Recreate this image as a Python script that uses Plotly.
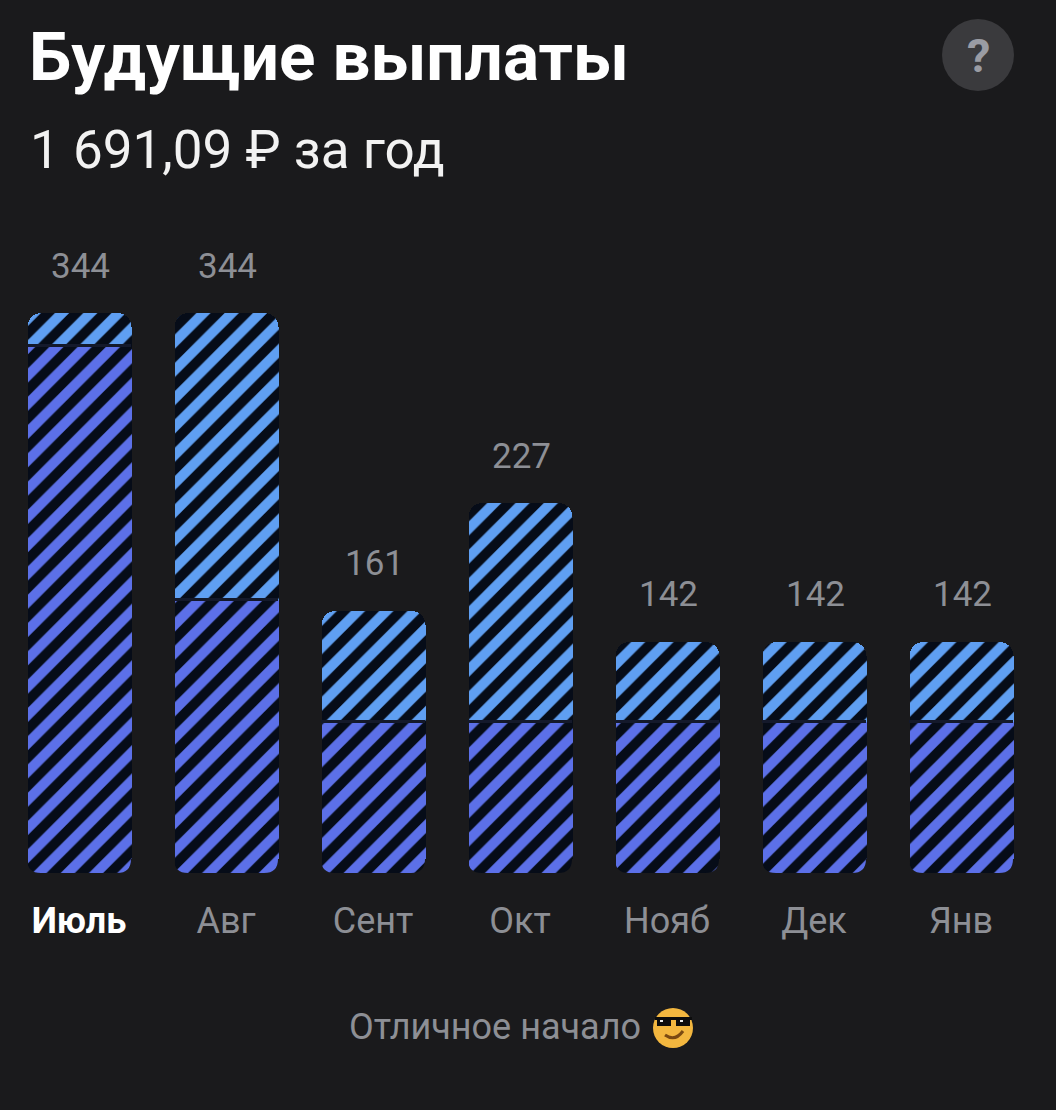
import plotly.graph_objects as go

# Data
months = ["Июль", "Авг", "Сент", "Окт", "Нояб", "Дек", "Янв"]
lower = [324, 168, 93, 93, 93, 93, 93]
upper = [20, 176, 68, 134, 49, 49, 49]
totals = [344, 344, 161, 227, 142, 142, 142]

W, H = 1056, 1110
BG = "#1a1a1c"
STRIPE = "#060c18"
BLUE_L = "#5f9ff2"
BLUE_D = "#5c70e8"
GREY = "#8d8f95"
FONT = "Roboto, Inter, sans-serif"
BAR_W = 104 / 147
RADIUS = 14
RX = RADIUS / 147
RY = RADIUS * 344 / 560
EPS = 1.5 / 147


def px(x):
    return x / W


def py(y):
    return 1 - y / H


def pattern(color):
    return dict(color=STRIPE, cornerradius=RADIUS, line_width=0,
                pattern=dict(shape="/", size=20, solidity=0.5, fgcolor=color,
                             bgcolor=STRIPE, fgopacity=1, fillmode="replace"))


xs = list(range(len(months)))
fig = go.Figure()
fig.add_bar(x=xs, y=lower, width=BAR_W, marker=pattern(BLUE_D))
fig.add_bar(x=xs, y=upper, width=BAR_W, marker=pattern(BLUE_L))

shapes = [dict(type="line", xref="x", yref="y", x0=i - BAR_W / 2, x1=i + BAR_W / 2, y0=v, y1=v,
               line=dict(color="#14192b", width=3)) for i, v in zip(xs, lower)]

# Background-coloured corner masks round the outer bottom of every stack
for i in xs:
    l, r = i - BAR_W / 2, i + BAR_W / 2
    for x0, dx, e in ((l, RX, -EPS), (r, -RX, EPS)):
        shapes.append(dict(type="path", xref="x", yref="y", fillcolor=BG, line_width=0,
                           path=f"M {x0 + e} {-1} L {x0 + dx} {-1} L {x0 + dx} 0 "
                                f"Q {x0} 0 {x0} {RY} L {x0 + e} {RY} Z"))


def circle(cx, cy, r, color):
    return dict(type="circle", xref="paper", yref="paper", x0=px(cx - r), x1=px(cx + r),
                y0=py(cy + r), y1=py(cy - r), fillcolor=color, line_width=0, layer="above")


def rect(x0, y0, x1, y1, color):
    return dict(type="rect", xref="paper", yref="paper", x0=px(x0), x1=px(x1),
                y0=py(y1), y1=py(y0), fillcolor=color, line_width=0, layer="above")


shapes.append(circle(978, 55, 36, "#3a3a3d"))
# sunglasses face icon
shapes.append(circle(673, 1028, 20, "#f3b73f"))
shapes.append(rect(655, 1017, 692, 1020, "#0c0c0c"))
shapes.append(rect(657, 1019, 671, 1026, "#0c0c0c"))
shapes.append(rect(676, 1019, 690, 1026, "#0c0c0c"))
shapes.append(rect(660, 1020, 663, 1022, "#e8e8e8"))
shapes.append(rect(680, 1020, 683, 1022, "#e8e8e8"))
shapes.append(dict(type="path", xref="paper", yref="paper", layer="above",
                   path=f"M {px(665)} {py(1035)} Q {px(675)} {py(1042)} {px(683)} {py(1031)}",
                   line=dict(color="#7a4a12", width=3)))

ann = [dict(x=i, y=t, xref="x", yref="y", text=str(t), showarrow=False, yshift=47, xshift=1,
            yanchor="middle", font=dict(size=35, color=GREY, family=FONT))
       for i, t in zip(xs, totals)]


def txt(x, y, s, size, color, weight=400, anchor="left"):
    return dict(x=px(x), y=py(y), xref="paper", yref="paper", text=s, showarrow=False,
                xanchor=anchor, yanchor="middle",
                font=dict(size=size, color=color, family=FONT, weight=weight))


ann += [
    txt(27, 56, "Будущие выплаты", 67.5, "#ffffff", 700),
    txt(28, 150, "1 691,09 ₽ за год", 53, "#f2f2f2"),
    txt(978, 55, "?", 47, "#9a9ca4", 700, "center"),
    txt(643, 1027, "Отличное начало", 36, GREY, 400, "right"),
]

ticktext = ['<span style="color:#ffffff;font-weight:700">' + months[0] + "</span>"] + months[1:]
fig.update_layout(
    width=W, height=H, autosize=False, margin=dict(l=0, r=0, t=0, b=0),
    paper_bgcolor=BG, plot_bgcolor=BG, barmode="stack", showlegend=False, bargap=0,
    xaxis=dict(domain=[px(5.5), px(1034.5)], range=[-0.5, 6.5], tickmode="array", tickvals=xs,
               ticktext=ticktext, showgrid=False, zeroline=False, showline=False, ticks="",
               ticklabelstandoff=23, tickfont=dict(size=36, color=GREY, family=FONT)),
    yaxis=dict(domain=[py(873), py(313)], range=[0, 344], visible=False),
    shapes=shapes, annotations=ann,
)
fig.write_html("out.html", config=dict(displayModeBar=False),
               post_script="document.body.style.margin='0';document.body.style.background='%s';document.documentElement.style.overflow='hidden';" % BG)
